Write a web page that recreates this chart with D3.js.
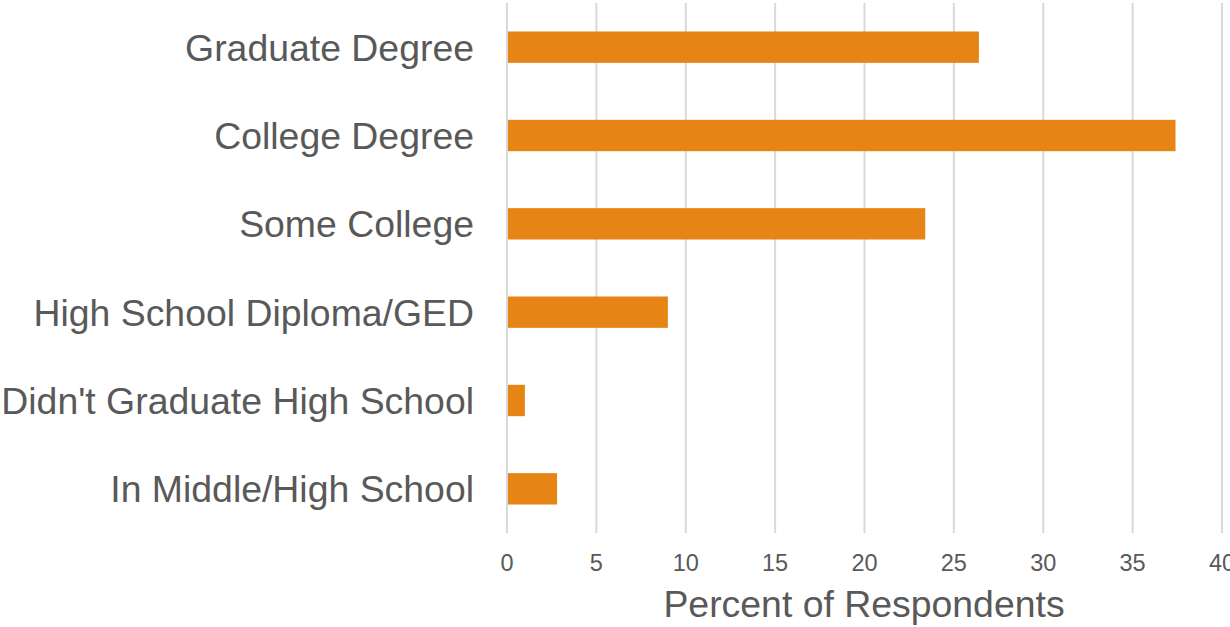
<!DOCTYPE html>
<html>
<head>
<meta charset="utf-8">
<script src="https://cdn.jsdelivr.net/npm/d3@7"></script>
<style>
  body { margin: 0; background: #fff; }
  svg { display: block; }
  .cat { font-family: "Liberation Sans", Arial, sans-serif; font-size: 37.4px; fill: #595959; }
  .tick-label { font-family: "Liberation Sans Narrow", "Liberation Sans", Arial, sans-serif; font-size: 23.5px; fill: #595959; }
  .title { font-family: "Liberation Sans", Arial, sans-serif; font-size: 37.4px; fill: #595959; }
</style>
</head>
<body>
<div id="chart"></div>
<script>
// data
const categories = ['Graduate Degree', 'College Degree', 'Some College',
  'High School Diploma/GED', "Didn't Graduate High School", 'In Middle/High School'];
const percents = [26.4, 37.4, 23.4, 9.0, 1.0, 2.8];
const tickValues = [0, 5, 10, 15, 20, 25, 30, 35, 40];

const width = 1230, height = 627;
const margin = { left: 507, right: 8, top: 3, bottom: 94 };

const svg = d3.select('#chart').append('svg')
  .attr('width', width)
  .attr('height', height);

const x = d3.scaleLinear()
  .domain([0, 40])
  .range([margin.left, width - margin.right]);

const y = d3.scaleBand()
  .domain(categories)
  .range([margin.top, height - margin.bottom])
  .paddingInner(0.645)
  .paddingOuter(0.3225);

// gridlines
svg.append('g')
  .selectAll('line')
  .data(tickValues)
  .enter()
  .append('line')
    .attr('x1', d => x(d))
    .attr('x2', d => x(d))
    .attr('y1', margin.top)
    .attr('y2', height - margin.bottom)
    .attr('stroke', '#d9d9d9')
    .attr('stroke-width', 2);

// bars
svg.append('g')
  .selectAll('rect')
  .data(percents)
  .enter()
  .append('rect')
    .attr('x', x(0) + 1)
    .attr('y', (d, i) => y(categories[i]))
    .attr('width', d => x(d) - x(0) - 1)
    .attr('height', y.bandwidth())
    .attr('fill', '#e68415');

// category labels
svg.append('g')
  .selectAll('text')
  .data(categories)
  .enter()
  .append('text')
    .attr('class', 'cat')
    .attr('x', 474)
    .attr('y', d => y(d) + y.bandwidth() / 2)
    .attr('dy', '0.36em')
    .attr('text-anchor', 'end')
    .text(d => d);

// x tick labels (the last one runs off the edge, as in the original)
svg.append('g')
  .selectAll('text')
  .data(tickValues)
  .enter()
  .append('text')
    .attr('class', 'tick-label')
    .attr('x', d => x(d))
    .attr('y', 571)
    .attr('text-anchor', 'middle')
    .text(d => d);

svg.append('text')
  .attr('class', 'title')
  .attr('x', 864)
  .attr('y', 617)
  .attr('text-anchor', 'middle')
  .text('Percent of Respondents');
</script>
</body>
</html>
